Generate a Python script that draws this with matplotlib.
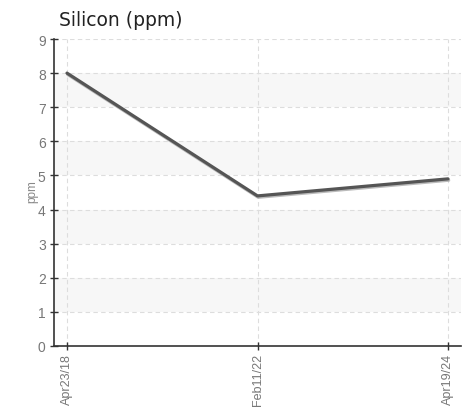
import matplotlib
matplotlib.use("Agg")
import matplotlib.pyplot as plt
import matplotlib.patheffects as pe

categories = ["Apr23/18", "Feb11/22", "Apr19/24"]
values = [8.0, 4.4, 4.9]
yticks = list(range(0, 10))

plt.rcParams['font.family'] = ['Liberation Sans', 'DejaVu Sans']

fig = plt.figure(figsize=(4.69, 4.10), dpi=100)
ax = fig.add_axes([54/469, 63/410, (461-54)/469, (347-40)/410])

x = list(range(len(categories)))
ax.set_ylim(0, 9)
m = 13/381*2
ax.set_xlim(-m, len(categories)-1+m)

for lo in (1, 3, 5, 7):
    ax.axhspan(lo, lo+1, color='#f7f7f7', zorder=0, lw=0)

for t in yticks[1:]:
    ax.axhline(t, color='#dddddd', lw=0.8, ls=(0, (4, 3)), zorder=1)
for xi in x:
    ax.axvline(xi, color='#dddddd', lw=0.8, ls=(0, (4, 3)), zorder=1)

ax.plot(x, values, color='#555555', lw=2.3, solid_capstyle='round', zorder=3,
        path_effects=[pe.SimpleLineShadow(offset=(0.5, -1), shadow_color='#aaaaaa', alpha=0.8), pe.Normal()])

ax.set_xticks(x)
ax.set_xticklabels(categories, rotation=90, color='#777777', fontsize=9)
ax.set_yticks(yticks)
ax.set_yticklabels([str(t) for t in yticks], color='#777777', fontsize=10)
ax.tick_params(axis='y', direction='inout', length=6, width=1, color='#333333', pad=3)
ax.tick_params(axis='x', direction='inout', length=6, width=1, color='#333333', pad=2)

for s in ('top', 'right'):
    ax.spines[s].set_visible(False)
for s in ('left', 'bottom'):
    ax.spines[s].set_color('#333333')
    ax.spines[s].set_linewidth(1.2)

ax.set_ylabel('ppm', color='#888888', fontsize=8.5)
ax.yaxis.set_label_coords(-16/407, 0.505)
fig.text(59/469, 1-20/410, 'Silicon (ppm)', fontsize=13.5, color='#222222', va='center', ha='left', family='DejaVu Sans')

fig.savefig('out.png', dpi=100)
